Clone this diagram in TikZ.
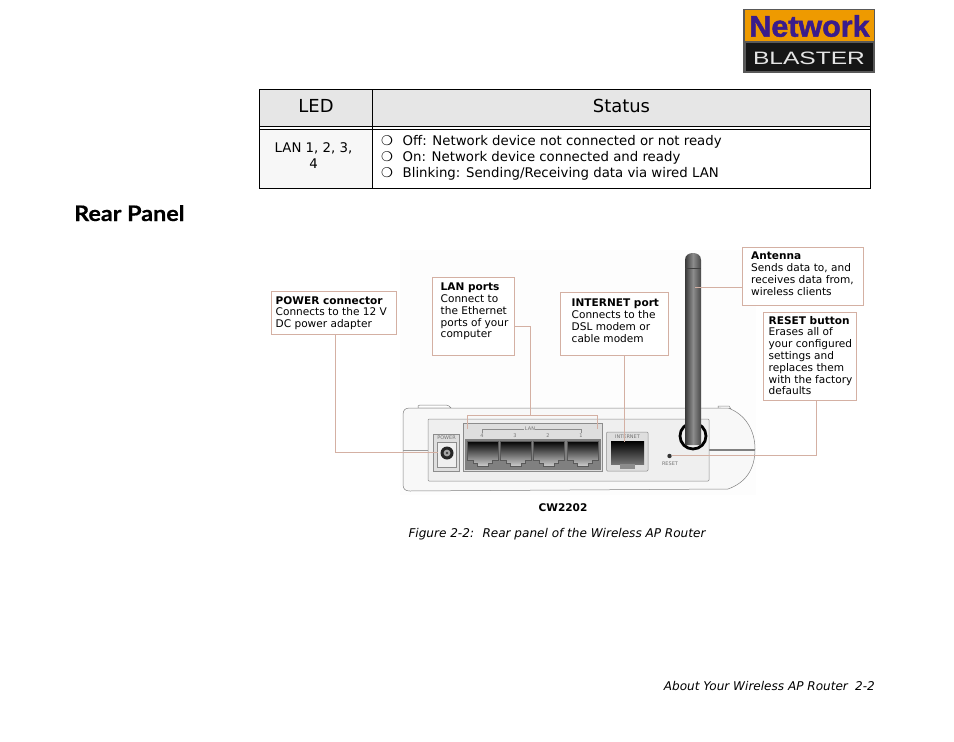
\documentclass[tikz,border=0pt]{standalone}
\usepackage{fontspec}
\setmainfont{DejaVu Sans}
\newfontfamily\headfont[BoldFeatures={FakeBold=0.5}]{Lato}
\newfontfamily\logofont[BoldFeatures={FakeBold=1.5}]{Liberation Sans}
\definecolor{callout}{HTML}{D4B0A3}
\definecolor{logoorange}{HTML}{EE9A00}
\definecolor{logopurple}{HTML}{3A1C8C}
\definecolor{logoblack}{HTML}{161616}
\definecolor{headgrey}{HTML}{E6E6E6}
\definecolor{cellgrey}{HTML}{F7F7F7}
\definecolor{bodywhite}{HTML}{F8F8F8}
\definecolor{panelgrey}{HTML}{EFEFEF}
\definecolor{boxgrey}{HTML}{DEDEDE}
\definecolor{photobg}{HTML}{FDFDFD}
\tikzset{
  x=1bp,y=-1bp,
  tablerule/.style={draw=black,line width=0.8bp},
  calloutbox/.style={draw=callout,line width=0.9bp,fill=white,anchor=north west,inner sep=0pt,outer sep=0pt},
  calloutline/.style={draw=callout,line width=0.9bp},
  callouttext/.style={anchor=north west,inner sep=0pt,align=left,font=\fontsize{10.6}{11.8}\selectfont,text=black},
  celltext/.style={inner sep=0pt,font=\fontsize{13.35}{16}\selectfont,text=black},
  headtext/.style={inner sep=0pt,font=\fontsize{18}{20}\selectfont,text=black},
  tiny label/.style={inner sep=0pt,font=\fontsize{5}{6}\selectfont,text=black!55},
  routerline/.style={draw=black!45,line width=0.5bp},
  port/.style={draw=black!65,line width=0.5bp,top color=black,bottom color=black!20},
}
\newcommand{\rjport}[1]{%
  \path[port] (#1,441) -- ++(31,0) -- ++(0,19) -- ++(-6,0) -- ++(0,3) -- ++(-4,0) -- ++(0,3)
    -- ++(-11,0) -- ++(0,-3) -- ++(-4,0) -- ++(0,-3) -- ++(-6,0) -- cycle;}
\begin{document}
\begin{tikzpicture}
\useasboundingbox (0,0) rectangle (954,742);
\fill[white] (0,0) rectangle (954,742);
% logo
\node[fill=black!65,anchor=north west,inner sep=0pt,outer sep=0pt,minimum width=132bp,minimum height=64bp] (logo) at (743,9) {};
\fill[logoorange] (744.5,10.5) rectangle (873.5,41);
\fill[logoblack] (745.5,43.5) rectangle (873,71.5);
\node[inner sep=0pt,text=logopurple,font=\logofont\bfseries\fontsize{30}{30}\selectfont,xscale=1.02] (logotop) at (809.5,26) {Network};
\node[inner sep=0pt,text=black!10,font=\logofont\fontsize{18}{18}\selectfont,xscale=1.37] (logobottom) at (809,58.5) {BLASTER};
% table
\fill[headgrey] (259.5,89.5) rectangle (870.5,126);
\fill[cellgrey] (259.5,129) rectangle (372,188.5);
\draw[tablerule] (259.5,89.5) rectangle (870.5,188.5);
\draw[tablerule] (372.5,89.5) -- (372.5,188.5);
\draw[tablerule] (259.5,126.5) -- (870.5,126.5);
\draw[tablerule] (259.5,129.5) -- (870.5,129.5);
\node[headtext] (hled) at (316,106) {LED};
\node[headtext] (hstatus) at (621.5,106) {Status};
\node[celltext,align=center] (cled) at (313.5,156) {LAN 1, 2, 3,\\4};
\node[celltext,anchor=base west] (c1) at (381,145) {❍\hspace{9.6bp}Off: Network device not connected or not ready};
\node[celltext,anchor=base west] (c2) at (381,161) {❍\hspace{9.6bp}On: Network device connected and ready};
\node[celltext,anchor=base west] (c3) at (381,177) {❍\hspace{9.6bp}Blinking: Sending/Receiving data via wired LAN};
% heading
\node[inner sep=0pt,anchor=base west,font=\headfont\bfseries\fontsize{21.5}{24}\selectfont,xscale=1.09] (rear) at (74,221) {Rear Panel};
% photo background
\fill[photobg] (400,250) rectangle (756,495);
% router body
\path[draw=black!50,line width=0.5bp,fill=white] (418,408) -- (418,406) .. controls (418,405) and (420,405) .. (425,405) -- (445,405) .. controls (449,405) and (450,407) .. (451,408) -- cycle;
\path[draw=black!50,line width=0.5bp,fill=white] (718,408) -- (718,406) -- (729,406) -- (731,409) -- cycle;
\path[draw=black!50,line width=0.5bp,fill=bodywhite] (410,408) -- (728,408) .. controls (745,414) and (755,430) .. (755,449)
  .. controls (755,470) and (745,483) .. (728,489) -- (410,491) .. controls (405,491) and (403,489) .. (403,484) -- (403,415) .. controls (403,410) and (405,408) .. (410,408) -- cycle;
\draw[draw=black!40,line width=1bp] (403,450) -- (428,450);
\draw[draw=black!50,line width=1.2bp] (709,450) -- (755,450);
\path[routerline,fill=panelgrey,rounded corners=1bp] (428,419) rectangle (709,481);
% power
\path[routerline,fill=boxgrey] (433.5,434) rectangle (459.5,471);
\path[routerline,fill=panelgrey] (437,442) rectangle (456.5,467);
\node[tiny label] (lpower) at (446.5,438) {POWER};
\fill[black!85] (447,453) circle (6.5bp);
\fill[black!35] (447,453) circle (3.4bp);
\fill[black!75] (447,453) circle (1.4bp);
% LAN
\path[routerline,fill=boxgrey] (463.5,423) rectangle (602,471);
\fill[black!50] (465,439) rectangle (601,470);
\rjport{467}\rjport{500.5}\rjport{533.5}\rjport{567}
\draw[routerline,line width=0.35bp] (482,433) -- (482,429) -- (524,429) (535,429) -- (581,429) -- (581,433);
\node[tiny label] (llan) at (530,428.5) {LAN};
\node[tiny label] (l4) at (482,436) {4};
\node[tiny label] (l3) at (515,436) {3};
\node[tiny label] (l2) at (548,436) {2};
\node[tiny label] (l1) at (581,436) {1};
% internet
\path[routerline,fill=boxgrey,rounded corners=1bp] (606.5,432) rectangle (648,471);
\path[draw=none,top color=black,bottom color=black!55] (611,441) rectangle (644,464);
\fill[black!45] (620,464) rectangle (635,469);
\node[tiny label] (linternet) at (627.5,437) {INTERNET};
% reset
\fill[black!80] (669.5,456) circle (2.2bp);
\node[tiny label] (lreset) at (670,464) {RESET};
% antenna
\draw[black,line width=2.8bp] (693,436) ellipse (13bp and 13bp);
\path[left color=black!78,right color=black!72,middle color=black!45] (685,260) .. controls (685,255) and (689,253) .. (693,253) .. controls (697,253) and (701,255) .. (701,260) -- (701,445) -- (685,445) -- cycle;
\draw[black!75,line width=0.4bp] (685,268) -- (701,268);
% callouts
\node[calloutbox,minimum width=125bp,minimum height=43bp] (bpower) at (271.5,291.5) {};
\node[callouttext] (tpower) at (275.5,296) {\textbf{POWER connector}\\Connects to the 12 V\\DC power adapter};
\node[calloutbox,minimum width=82bp,minimum height=78bp] (blan) at (432.5,277.5) {};
\node[callouttext] (tlan) at (440.5,283) {\textbf{LAN ports}\\Connect to\\the Ethernet\\ports of your\\computer};
\node[calloutbox,minimum width=108bp,minimum height=63bp] (binternet) at (560.5,292.5) {};
\node[callouttext] (tinternet) at (571.5,299) {\textbf{INTERNET port}\\Connects to the\\DSL modem or\\cable modem};
\node[calloutbox,minimum width=121bp,minimum height=58bp] (bantenna) at (742.5,247.5) {};
\node[callouttext] (tantenna) at (751,252) {\textbf{Antenna}\\Sends data to, and\\receives data from,\\wireless clients};
\node[calloutbox,minimum width=93bp,minimum height=88bp] (breset) at (763.5,312.5) {};
\node[callouttext] (treset) at (768.5,316) {\textbf{RESET button}\\Erases all of\\your configured\\settings and\\replaces them\\with the factory\\defaults};
% connectors
\coordinate (epower) at (438,452.5);
\coordinate (sp) at (335.5,334.5);
\draw[calloutline] (sp) |- (epower);
\coordinate (sl) at (514.5,326.5);
\coordinate (bracket) at (530.5,415.5);
\draw[calloutline] (sl) -| (bracket);
\coordinate (bl) at (467,429);
\coordinate (br) at (597.5,429);
\draw[calloutline] (bl) |- (bracket) -| (br);
\coordinate (si) at (624.5,355.5);
\coordinate (ei) at (624.5,442);
\draw[calloutline] (si) -- (ei);
\coordinate (ea) at (695,287.5);
\coordinate (sa) at (742.5,287.5);
\draw[calloutline] (sa) -- (ea);
\coordinate (sr) at (816.5,400.5);
\coordinate (er) at (671.5,455.5);
\draw[calloutline] (sr) |- (er);
% captions
\node[inner sep=0pt,font=\bfseries\fontsize{10.6}{12}\selectfont] (model) at (563,508) {CW2202};
\node[inner sep=0pt,anchor=base,font=\itshape\fontsize{12.1}{14}\selectfont] (caption) at (557,537) {Figure 2-2:\hspace{0.7em}Rear panel of the Wireless AP Router};
\node[inner sep=0pt,anchor=base east,font=\itshape\fontsize{12.1}{14}\selectfont] (footer) at (875,690) {About Your Wireless AP Router\hspace{0.6em}2-2};
\end{tikzpicture}
\end{document}
